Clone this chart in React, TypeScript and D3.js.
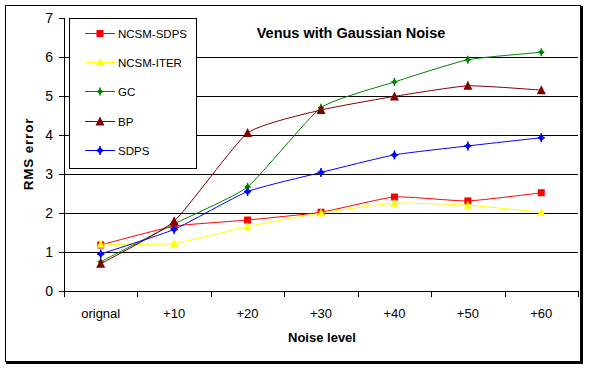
import React from "react";
import * as d3 from "d3";

const categories = ["orignal", "+10", "+20", "+30", "+40", "+50", "+60"];
const yTicks = [0, 1, 2, 3, 4, 5, 6, 7];
const seriesNames = ["NCSM-SDPS", "NCSM-ITER", "GC", "BP", "SDPS"];
const ncsmSdps = [1.18, 1.66, 1.82, 2.02, 2.41, 2.31, 2.52];
const ncsmIter = [1.2, 1.22, 1.65, 2.0, 2.25, 2.2, 2.02];
const gc = [0.75, 1.72, 2.67, 4.7, 5.36, 5.93, 6.12];
const bp = [0.7, 1.79, 4.05, 4.64, 4.99, 5.26, 5.15];
const sdps = [0.95, 1.58, 2.55, 3.04, 3.49, 3.72, 3.93];

const seriesValues = [ncsmSdps, ncsmIter, gc, bp, sdps];
const colors = ["#FF0000", "#FFFF00", "#008000", "#800000", "#0000FF"];
const markers = ["square", "triangle", "diamond", "triangle", "diamond"];
const markerSizes = [7, 7, 6, 8, 7];

const W = 589;
const H = 369;
const plot = { left: 64, right: 578, top: 18, bottom: 291 };

function Marker({ type, x, y, color, size }: { type: string; x: number; y: number; color: string; size: number }) {
  const s = size / 2;
  if (type === "square") {
    return <rect x={x - s} y={y - s} width={size} height={size} fill={color} />;
  }
  if (type === "triangle") {
    return <path d={`M${x},${y - s - 1}L${x + s + 0.5},${y + s}L${x - s - 0.5},${y + s}Z`} fill={color} />;
  }
  return (
    <g>
      <path d={`M${x},${y - s}L${x + s},${y}L${x},${y + s}L${x - s},${y}Z`} fill={color} />
      <line x1={x - s} x2={x + s} y1={y} y2={y} stroke={color} strokeWidth={1.5} />
      <line x1={x} x2={x} y1={y - s - 1} y2={y + s + 1} stroke={color} strokeWidth={1.5} />
    </g>
  );
}

export default function App() {
  const x = d3.scaleBand<string>().domain(categories).range([plot.left, plot.right]);
  const y = d3.scaleLinear().domain([0, 7]).range([plot.bottom, plot.top]);
  const cx = (c: string) => (x(c) as number) + x.bandwidth() / 2;
  const line = d3
    .line<number>()
    .x((_, i) => cx(categories[i]))
    .y((d) => y(d))
    .curve(d3.curveCardinal.tension(0.5));

  const font = "'Liberation Sans', Arial, sans-serif";
  const legendRows = [33, 62, 91, 121, 150];

  return (
    <div style={{ position: "absolute", left: 0, top: 0 }}>
      <svg width={W} height={H} style={{ display: "block" }} fontFamily={font}>
        <rect x={0} y={0} width={W} height={H} fill="#fff" />
        {/* outer border with shadow */}
        <rect x={5.5} y={5.5} width={575} height={356} fill="#fff" stroke="#000" strokeWidth={1} />
        <line x1={6} x2={583} y1={363} y2={363} stroke="#000" strokeWidth={2} />
        <line x1={582} x2={582} y1={6} y2={364} stroke="#000" strokeWidth={2} />

        {/* gridlines */}
        {yTicks.slice(1, 7).map((t) => (
          <line key={t} x1={plot.left} x2={plot.right} y1={Math.round(y(t)) + 0.5} y2={Math.round(y(t)) + 0.5} stroke="#000" strokeWidth={1} />
        ))}
        {/* y axis */}
        <line x1={plot.left + 0.5} x2={plot.left + 0.5} y1={plot.top} y2={plot.bottom} stroke="#000" />
        {yTicks.map((t) => (
          <g key={t}>
            <line x1={plot.left - 5} x2={plot.left} y1={Math.round(y(t)) + 0.5} y2={Math.round(y(t)) + 0.5} stroke="#000" />
            <text x={53} y={y(t) + 5} textAnchor="end" fontSize={14}>
              {t}
            </text>
          </g>
        ))}
        {/* x axis */}
        <line x1={plot.left} x2={plot.right} y1={plot.bottom + 0.5} y2={plot.bottom + 0.5} stroke="#000" />
        {categories.map((c, i) => (
          <line key={"t" + i} x1={Math.round(x(c) as number) + 0.5} x2={Math.round(x(c) as number) + 0.5} y1={plot.bottom} y2={plot.bottom + 6} stroke="#000" />
        ))}
        <line x1={plot.right + 0.5} x2={plot.right + 0.5} y1={plot.bottom} y2={plot.bottom + 6} stroke="#000" />
        {categories.map((c) => (
          <text key={c} x={cx(c)} y={318} textAnchor="middle" fontSize={13}>
            {c}
          </text>
        ))}

        {/* series */}
        {seriesValues.map((vals, si) => (
          <g key={si}>
            <path d={line(vals) || ""} fill="none" stroke={colors[si]} strokeWidth={1} />
            {vals.map((v, i) => (
              <Marker key={i} type={markers[si]} x={cx(categories[i])} y={y(v)} color={colors[si]} size={markerSizes[si]} />
            ))}
          </g>
        ))}

        {/* title & axis titles */}
        <text x={351} y={38} textAnchor="middle" fontSize={14.5} fontWeight="bold">
          Venus with Gaussian Noise
        </text>
        <text x={322} y={342} textAnchor="middle" fontSize={13} fontWeight="bold">
          Noise level
        </text>
        <text transform={`translate(33,154) rotate(-90)`} textAnchor="middle" fontSize={13.5} fontWeight="bold" letterSpacing={0.8}>
          RMS error
        </text>

        {/* legend */}
        <rect x={69.5} y={18.5} width={127} height={150} fill="#fff" stroke="#000" strokeWidth={1} />
        {seriesNames.map((n, i) => (
          <g key={n}>
            <line x1={85} x2={115} y1={legendRows[i] + 0.5} y2={legendRows[i] + 0.5} stroke={colors[i]} />
            <Marker type={markers[i]} x={100} y={legendRows[i] + 0.5} color={colors[i]} size={markerSizes[i]} />
            <text x={118} y={legendRows[i] + 4.5} fontSize={11.5}>
              {n}
            </text>
          </g>
        ))}
      </svg>
    </div>
  );
}
